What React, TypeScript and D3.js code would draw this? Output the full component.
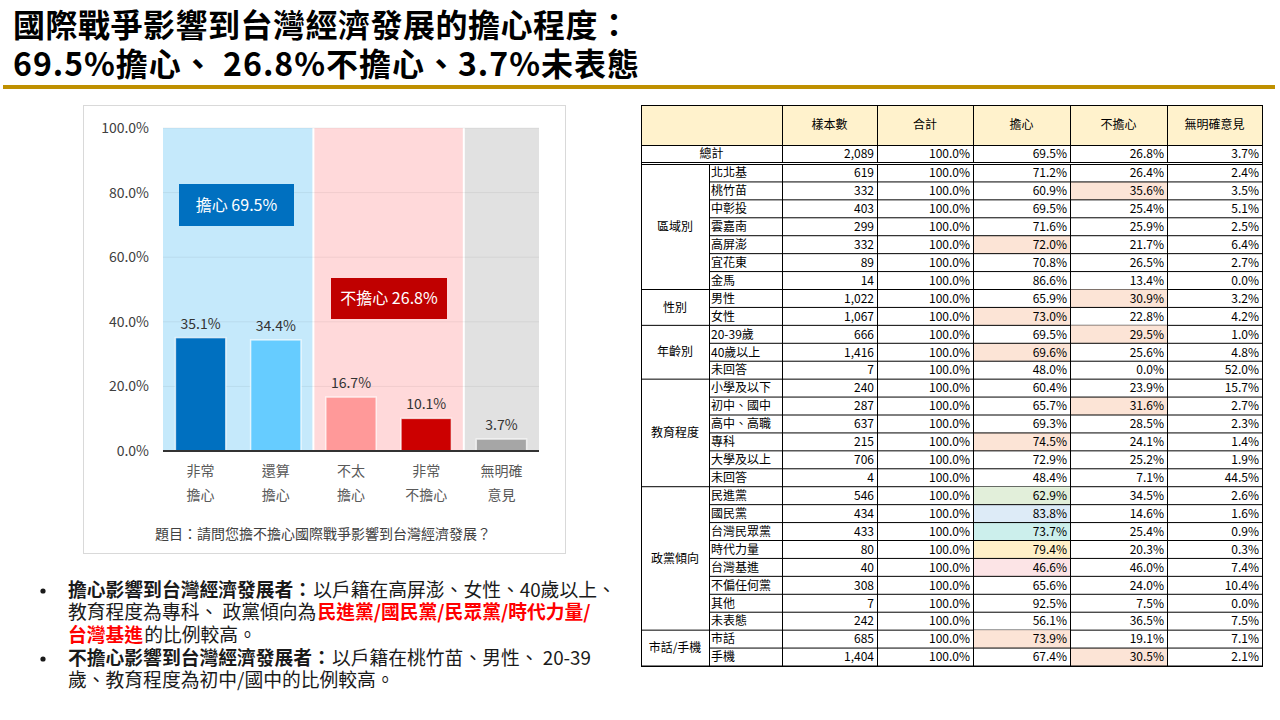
import React from 'react'
import * as d3 from 'd3'

// 長條圖資料
const barCategories = ['非常\n擔心', '還算\n擔心', '不太\n擔心', '非常\n不擔心', '無明確\n意見']
const barValues = [35.1, 34.4, 16.7, 10.1, 3.7]
const yTicks = [0, 20, 40, 60, 80, 100]
const groupSpans = [
  { label: '擔心 69.5%', from: 0, to: 1 },
  { label: '不擔心 26.8%', from: 2, to: 3 },
  { label: '', from: 4, to: 4 }
]

// 交叉表資料
const tableHeaders = ['樣本數', '合計', '擔心', '不擔心', '無明確意見']
const totalRow: [string, number, number, number, number, number] = ['總計', 2089, 100, 69.5, 26.8, 3.7]
const regionRows: [string, number, number, number, number, number][] = [
  ['北北基', 619, 100, 71.2, 26.4, 2.4],
  ['桃竹苗', 332, 100, 60.9, 35.6, 3.5],
  ['中彰投', 403, 100, 69.5, 25.4, 5.1],
  ['雲嘉南', 299, 100, 71.6, 25.9, 2.5],
  ['高屏澎', 332, 100, 72.0, 21.7, 6.4],
  ['宜花東', 89, 100, 70.8, 26.5, 2.7],
  ['金馬', 14, 100, 86.6, 13.4, 0.0]
]
const genderRows: [string, number, number, number, number, number][] = [
  ['男性', 1022, 100, 65.9, 30.9, 3.2],
  ['女性', 1067, 100, 73.0, 22.8, 4.2]
]
const ageRows: [string, number, number, number, number, number][] = [
  ['20-39歲', 666, 100, 69.5, 29.5, 1.0],
  ['40歲以上', 1416, 100, 69.6, 25.6, 4.8],
  ['未回答', 7, 100, 48.0, 0.0, 52.0]
]
const eduRows: [string, number, number, number, number, number][] = [
  ['小學及以下', 240, 100, 60.4, 23.9, 15.7],
  ['初中、國中', 287, 100, 65.7, 31.6, 2.7],
  ['高中、高職', 637, 100, 69.3, 28.5, 2.3],
  ['專科', 215, 100, 74.5, 24.1, 1.4],
  ['大學及以上', 706, 100, 72.9, 25.2, 1.9],
  ['未回答', 4, 100, 48.4, 7.1, 44.5]
]
const partyRows: [string, number, number, number, number, number][] = [
  ['民進黨', 546, 100, 62.9, 34.5, 2.6],
  ['國民黨', 434, 100, 83.8, 14.6, 1.6],
  ['台灣民眾黨', 433, 100, 73.7, 25.4, 0.9],
  ['時代力量', 80, 100, 79.4, 20.3, 0.3],
  ['台灣基進', 40, 100, 46.6, 46.0, 7.4],
  ['不偏任何黨', 308, 100, 65.6, 24.0, 10.4],
  ['其他', 7, 100, 92.5, 7.5, 0.0],
  ['未表態', 242, 100, 56.1, 36.5, 7.5]
]
const phoneRows: [string, number, number, number, number, number][] = [
  ['市話', 685, 100, 73.9, 19.1, 7.1],
  ['手機', 1404, 100, 67.4, 30.5, 2.1]
]
const tableGroups = [
  { name: '區域別', rows: regionRows },
  { name: '性別', rows: genderRows },
  { name: '年齡別', rows: ageRows },
  { name: '教育程度', rows: eduRows },
  { name: '政黨傾向', rows: partyRows },
  { name: '市話/手機', rows: phoneRows }
]

// 底色標示 (群組|列 -> 欄, 顏色)
const PEACH = '#FCE4D6'
const highlights: Record<string, [number, string]> = {
  '區域別|桃竹苗': [4, PEACH],
  '區域別|高屏澎': [3, PEACH],
  '性別|男性': [4, PEACH],
  '性別|女性': [3, PEACH],
  '年齡別|20-39歲': [4, PEACH],
  '年齡別|40歲以上': [3, PEACH],
  '教育程度|初中、國中': [4, PEACH],
  '教育程度|專科': [3, PEACH],
  '政黨傾向|民進黨': [3, '#E2EFDA'],
  '政黨傾向|國民黨': [3, '#DDEBF7'],
  '政黨傾向|台灣民眾黨': [3, '#CCEFEC'],
  '政黨傾向|時代力量': [3, '#FFF0C8'],
  '政黨傾向|台灣基進': [3, '#FCE4E6'],
  '市話/手機|市話': [3, PEACH],
  '市話/手機|手機': [4, PEACH]
}

const FONT = '"Noto Sans CJK TC", "Noto Sans", sans-serif'
const barColors = ['#0070C0', '#66CCFF', '#FF9999', '#CC0000', '#A6A6A6']
const bgColors = ['#C5E9FB', '#FFD9DA', '#E1E1E1']
const tagColors = ['#0070C0', '#C00000']

function BarChart() {
  const left = 163, right = 539, top = 128, bottom = 451
  const x = d3.scaleBand<number>().domain(d3.range(barValues.length)).range([left, right]).paddingInner(0.33).paddingOuter(0.165)
  const xFull = d3.scaleBand<number>().domain(d3.range(barValues.length)).range([left, right])
  const y = d3.scaleLinear().domain([0, 100]).range([bottom, top])
  const pct = (v: number) => v.toFixed(1) + '%'

  return (
    <g fontFamily={FONT}>
      <rect x={83.5} y={105.5} width={482} height={448} fill="#fff" stroke="#D9D9D9" />
      {groupSpans.map((g, i) => {
        const x0 = xFull(g.from)! + (g.from === 0 ? 0 : 1)
        const x1 = xFull(g.to)! + xFull.bandwidth() - (g.to === barValues.length - 1 ? 0 : 1)
        return <rect key={i} x={x0} y={top} width={x1 - x0} height={bottom - top} fill={bgColors[i]} />
      })}
      {yTicks.map(t => (
        <g key={t}>
          {t > 0 && <line x1={left} x2={right} y1={y(t)} y2={y(t)} stroke="#000" strokeOpacity={0.06} />}
          <text x={149} y={y(t)} dy="0.35em" textAnchor="end" fontSize={14} fill="#404040">{pct(t)}</text>
        </g>
      ))}
      {barValues.map((v, i) => (
        <g key={i}>
          <rect x={x(i)} y={y(v)} width={x.bandwidth()} height={bottom - y(v)} fill={barColors[i]} stroke="#fff" strokeOpacity={0.7} strokeWidth={1.5} />
          <text x={x(i)! + x.bandwidth() / 2} y={y(v) - 9} textAnchor="middle" fontSize={14} fill="#333">{pct(v)}</text>
          {barCategories[i].split('\n').map((s, j) => (
            <text key={j} x={x(i)! + x.bandwidth() / 2} y={476 + j * 24} textAnchor="middle" fontSize={14} fill="#595959">{s}</text>
          ))}
        </g>
      ))}
      <line x1={left} x2={right} y1={bottom} y2={bottom} stroke="#333" strokeWidth={2} />
      {/* 標籤方塊 */}
      <rect x={179} y={184} width={115} height={42} fill={tagColors[0]} />
      <text x={236.5} y={205} dy="0.35em" textAnchor="middle" fontSize={16} fill="#fff">{groupSpans[0].label}</text>
      <rect x={331} y={278} width={116} height={41} fill={tagColors[1]} />
      <text x={389} y={298.5} dy="0.35em" textAnchor="middle" fontSize={16} fill="#fff">{groupSpans[1].label}</text>
      <text x={323} y={534} dy="0.35em" textAnchor="middle" fontSize={14} fill="#404040">題目：請問您擔不擔心國際戰爭影響到台灣經濟發展？</text>
    </g>
  )
}

function CrossTable() {
  const cols = [641, 709, 782, 877, 973, 1070, 1167, 1262]
  const headTop = 105, headBottom = 145, totalBottom = 162, bodyTop = 164, bodyBottom = 666
  const nRows = d3.sum(tableGroups, g => g.rows.length)
  const ry = d3.scaleLinear().domain([0, nRows]).range([bodyTop, bodyBottom])
  const fmtN = d3.format(',')
  const pct = (v: number) => v.toFixed(1) + '%'
  const cellText = (row: (string | number)[], c: number) => c === 2 ? fmtN(row[1] as number) : pct(row[c - 1] as number)

  let idx = 0
  const groupEls = tableGroups.map(g => {
    const start = idx
    idx += g.rows.length
    const y0 = ry(start), y1 = ry(idx)
    return (
      <g key={g.name}>
        <text x={(cols[0] + cols[1]) / 2} y={(y0 + y1) / 2} dy="0.35em" textAnchor="middle" fontSize={12}>{g.name}</text>
        {g.rows.map((r, k) => {
          const top = ry(start + k), bot = ry(start + k + 1)
          const hl = highlights[g.name + '|' + r[0]]
          return (
            <g key={k}>
              {hl && <rect x={cols[hl[0] + 1]} y={top} width={cols[hl[0] + 2] - cols[hl[0] + 1]} height={bot - top} fill={hl[1]} />}
              <text x={cols[1] + 2} y={(top + bot) / 2} dy="0.36em" fontSize={12}>{r[0]}</text>
              {[2, 3, 4, 5, 6].map(c => (
                <text key={c} x={cols[c + 1] - 3} y={(top + bot) / 2} dy="0.36em" textAnchor="end" fontSize={12}>{cellText(r, c)}</text>
              ))}
              {k > 0 && <line x1={cols[1]} x2={cols[7]} y1={top} y2={top} stroke="#000" />}
            </g>
          )
        })}
        <line x1={cols[0]} x2={cols[7]} y1={y1} y2={y1} stroke="#000" />
      </g>
    )
  })

  return (
    <g fontFamily={FONT} fill="#000">
      <rect x={cols[0]} y={headTop} width={cols[7] - cols[0]} height={headBottom - headTop} fill="#FFF2CC" />
      {tableHeaders.map((h, i) => (
        <text key={h} x={(cols[i + 2] + cols[i + 3]) / 2} y={(headTop + headBottom) / 2} dy="0.35em" textAnchor="middle" fontSize={12}>{h}</text>
      ))}
      <text x={(cols[0] + cols[2]) / 2} y={(headBottom + totalBottom) / 2} dy="0.36em" textAnchor="middle" fontSize={12}>{totalRow[0]}</text>
      {[2, 3, 4, 5, 6].map(c => (
        <text key={c} x={cols[c + 1] - 3} y={(headBottom + totalBottom) / 2} dy="0.36em" textAnchor="end" fontSize={12}>{cellText(totalRow, c)}</text>
      ))}
      {groupEls}
      <g stroke="#000" fill="none" shapeRendering="crispEdges">
        <rect x={cols[0]} y={headTop} width={cols[7] - cols[0]} height={bodyBottom - headTop} />
        <line x1={cols[0]} x2={cols[7]} y1={headBottom} y2={headBottom} />
        <line x1={cols[0]} x2={cols[7]} y1={totalBottom} y2={totalBottom} />
        <line x1={cols[0]} x2={cols[7]} y1={bodyTop} y2={bodyTop} />
        <line x1={cols[1]} x2={cols[1]} y1={bodyTop} y2={bodyBottom} />
        {cols.slice(2, 7).map(cx => (
          <g key={cx}>
            <line x1={cx} x2={cx} y1={headTop} y2={totalBottom} />
            <line x1={cx} x2={cx} y1={bodyTop} y2={bodyBottom} />
          </g>
        ))}
      </g>
    </g>
  )
}

function Bullets() {
  const red = '#FF0000'
  const lines: { t: string; b?: boolean; c?: string }[][] = [
    [{ t: '擔心影響到台灣經濟發展者：', b: true }, { t: '以戶籍在高屏澎、女性、40歲以上、' }],
    [{ t: '教育程度為專科、 政黨傾向為' }, { t: '民進黨/國民黨/民眾黨/時代力量/', b: true, c: red }],
    [{ t: '台灣基進', b: true, c: red }, { t: '的比例較高。' }],
    [{ t: '不擔心影響到台灣經濟發展者：', b: true }, { t: '以戶籍在桃竹苗、男性、 20-39' }],
    [{ t: '歲、教育程度為初中/國中的比例較高。' }]
  ]
  const ys = [597, 619, 642, 665, 687]
  return (
    <g fontFamily={FONT} fontSize={18.8} fill="#1a1a1a">
      <circle cx={43} cy={ys[0] - 6} r={2.6} fill="#1a1a1a" />
      <circle cx={43} cy={ys[3] - 6} r={2.6} fill="#1a1a1a" />
      {lines.map((ln, i) => (
        <text key={i} x={68} y={ys[i]}>
          {ln.map((s, j) => (
            <tspan key={j} dx={j > 0 ? 1 : 0} fontWeight={s.b ? 700 : 400} fill={s.c || '#1a1a1a'}>{s.t}</tspan>
          ))}
        </text>
      ))}
    </g>
  )
}

export default function App() {
  return (
    <svg width={1280} height={720} style={{ position: 'absolute', left: 0, top: 0, background: '#fff' }}>
      <rect width={1280} height={720} fill="#fff" />
      <g fontFamily={FONT} fontWeight={700} fontSize={32} fill="#000">
        <text x={13} y={37} letterSpacing={0.5}>國際戰爭影響到台灣經濟發展的擔心程度：</text>
        <text x={13} y={76} letterSpacing={1}>69.5%擔心、 26.8%不擔心、3.7%未表態</text>
      </g>
      <rect x={3} y={85} width={1272} height={4} fill="#BF9000" />
      <BarChart />
      <CrossTable />
      <Bullets />
    </svg>
  )
}
